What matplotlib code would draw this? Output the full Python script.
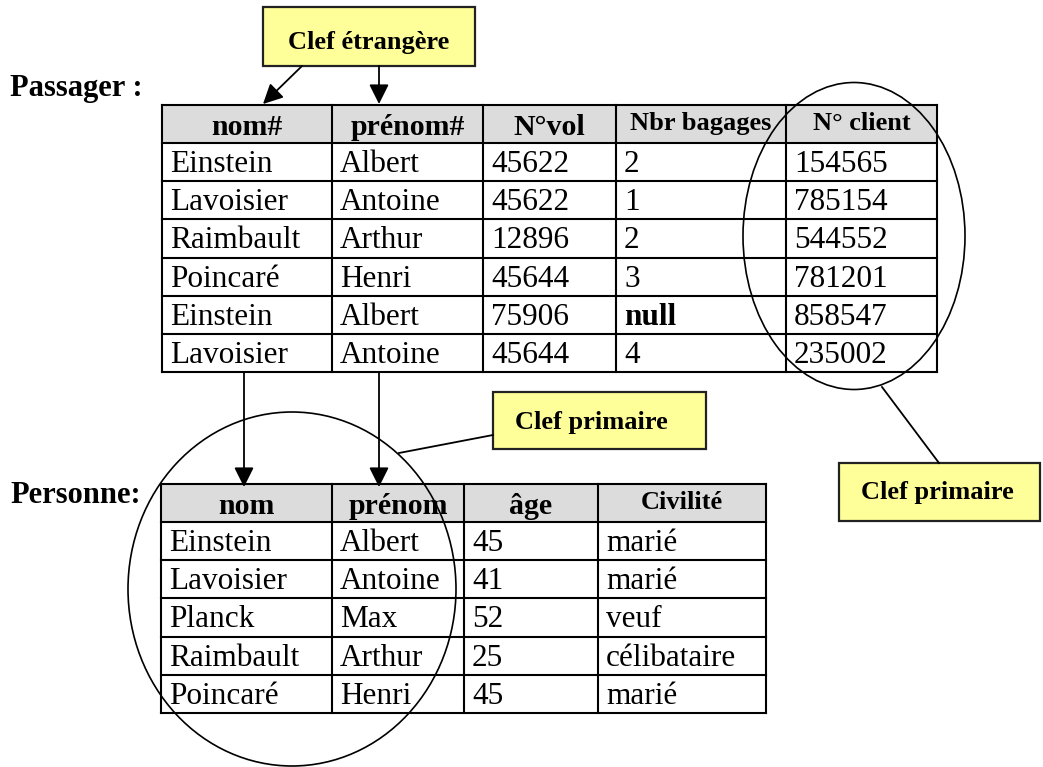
import matplotlib.pyplot as plt
from matplotlib.patches import Rectangle, Ellipse

plt.rcParams['font.family'] = ['Liberation Serif', 'DejaVu Serif']

# Passager table
passager_cols = ["nom#", "prénom#", "N°vol", "Nbr bagages", "N° client"]
passager_nom = ["Einstein", "Lavoisier", "Raimbault", "Poincaré", "Einstein", "Lavoisier"]
passager_prenom = ["Albert", "Antoine", "Arthur", "Henri", "Albert", "Antoine"]
passager_vol = ["45622", "45622", "12896", "45644", "75906", "45644"]
passager_bagages = ["2", "1", "2", "3", "null", "4"]
passager_client = ["154565", "785154", "544552", "781201", "858547", "235002"]

# Personne table
personne_cols = ["nom", "prénom", "âge", "Civilité"]
personne_nom = ["Einstein", "Lavoisier", "Planck", "Raimbault", "Poincaré"]
personne_prenom = ["Albert", "Antoine", "Max", "Arthur", "Henri"]
personne_age = ["45", "41", "52", "25", "45"]
personne_civ = ["marié", "marié", "veuf", "célibataire", "marié"]

W, H = 1043, 767
fig = plt.figure(figsize=(W / 100, H / 100), dpi=100)
ax = fig.add_axes([0, 0, 1, 1])
ax.set_xlim(0, W)
ax.set_ylim(H, 0)  # pixel-like coordinates, y downwards
ax.axis('off')

LW = 1.5
HEAD_FILL = '#dcdcdc'
BOX_FILL = '#ffff99'
CELL_FS = 22.5
HEAD_FS = 21.5
SMALL_FS = 19
NOTE_FS = 19


def draw_table(x_edges, top, head_h, row_h, headers, small, columns, bold_cells=()):
    nrows = len(columns[0])
    bottom = top + head_h + nrows * row_h
    ax.add_patch(Rectangle((x_edges[0], top), x_edges[-1] - x_edges[0], head_h,
                           facecolor=HEAD_FILL, edgecolor='none', zorder=1))
    ys = [top, top + head_h] + [top + head_h + (i + 1) * row_h for i in range(nrows)]
    for y in ys:
        ax.plot([x_edges[0], x_edges[-1]], [y, y], color='black', lw=LW, zorder=3,
                solid_capstyle='projecting')
    for x in x_edges:
        ax.plot([x, x], [top, bottom], color='black', lw=LW, zorder=3,
                solid_capstyle='projecting')
    # headers (smaller ones sit higher, top aligned like in Word)
    for j, h in enumerate(headers):
        cx = (x_edges[j] + x_edges[j + 1]) / 2
        if j in small:
            ax.text(cx, top + 25, h, ha='center', va='baseline', fontsize=SMALL_FS,
                    fontweight='bold', zorder=4)
        else:
            ax.text(cx, top + 30, h, ha='center', va='baseline', fontsize=HEAD_FS,
                    fontweight='bold', zorder=4)
    for j, col in enumerate(columns):
        for i, v in enumerate(col):
            y = top + head_h + i * row_h + 29
            bold = (j, i) in bold_cells
            ax.text(x_edges[j] + 8, y, v, ha='left', va='baseline', fontsize=CELL_FS,
                    fontweight='bold' if bold else 'normal', zorder=4)


def yellow_box(x0, y0, x1, y1, label, pad=None, base=36):
    ax.add_patch(Rectangle((x0, y0), x1 - x0, y1 - y0, facecolor=BOX_FILL,
                           edgecolor='#222222', lw=1.6, zorder=5))
    if pad is None:
        ax.text((x0 + x1) / 2, y0 + base, label, ha='center', va='baseline',
                fontsize=NOTE_FS, fontweight='bold', zorder=6)
    else:
        ax.text(x0 + pad, y0 + base, label, ha='left', va='baseline',
                fontsize=NOTE_FS, fontweight='bold', zorder=6)


def arrow(x0, y0, x1, y1):
    ax.annotate('', xy=(x1, y1), xytext=(x0, y0),
                arrowprops=dict(arrowstyle='-|>,head_length=0.6,head_width=0.3',
                                mutation_scale=20, lw=1.3, color='black',
                                shrinkA=0, shrinkB=0), zorder=7)


# labels
ax.text(10, 96, "Passager :", ha='left', va='baseline', fontsize=22, fontweight='bold')
ax.text(10, 503, "Personne:", ha='left', va='baseline', fontsize=22, fontweight='bold')

draw_table([162, 332, 483, 616, 786, 937], 105, 38, 38.2, passager_cols, small=(3, 4),
           columns=[passager_nom, passager_prenom, passager_vol, passager_bagages,
                    passager_client],
           bold_cells=[(3, passager_bagages.index("null"))])

draw_table([161, 332, 464, 598, 766], 484, 38, 38.2, personne_cols, small=(3,),
           columns=[personne_nom, personne_prenom, personne_age, personne_civ])

# ellipses around the keys
ax.add_patch(Ellipse((854, 236), 222, 307, fill=False, edgecolor='black', lw=1.2, zorder=8))
ax.add_patch(Ellipse((292, 589), 328, 354, fill=False, edgecolor='black', lw=1.2, zorder=8))

# foreign key callout
yellow_box(263, 7, 475, 66, "Clef étrangère", base=42)
arrow(302, 66, 263, 104)
arrow(379, 66, 379, 104)

# arrows from Passager to Personne
arrow(244, 372, 244, 487)
arrow(379, 372, 379, 487)

# primary key callouts
ax.plot([493, 399], [435, 453], color='black', lw=1.3, zorder=8)
yellow_box(493, 392, 706, 449, "Clef primaire", pad=22, base=37)

ax.plot([882, 939], [387, 463], color='black', lw=1.3, zorder=8)
yellow_box(839, 463, 1040, 521, "Clef primaire", pad=22, base=36)

fig.savefig("out.png", dpi=100)
